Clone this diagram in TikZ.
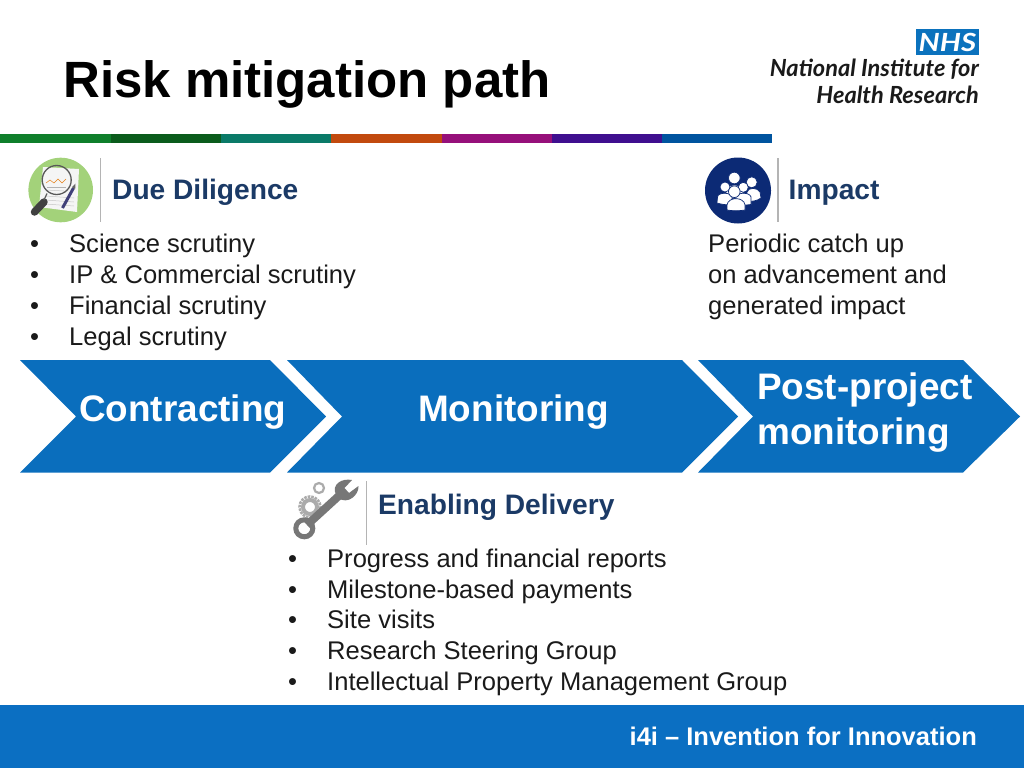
\documentclass[tikz,border=0pt]{standalone}
\usepackage{fontspec}
\setmainfont{Liberation Sans}
\newfontfamily\logofont{Lato}
\definecolor{chev}{HTML}{0A6EBD}
\definecolor{foot}{HTML}{0B6FC2}
\definecolor{navytxt}{HTML}{1B3A66}
\definecolor{sepgrey}{HTML}{B4B4B4}
\definecolor{iconnavy}{HTML}{0C2A75}
\definecolor{icongreen}{HTML}{A3D27A}
\definecolor{toolgrey}{HTML}{777777}
\definecolor{gearg}{HTML}{ABABAB}
\definecolor{nhsblue}{HTML}{0B72BD}
\definecolor{bodytxt}{HTML}{1A1A1A}
\newcommand{\fs}[1]{\fontsize{#1}{#1}\selectfont}
\tikzset{
  x=1pt,y=-1pt,
  chevshape/.style={fill=chev,draw=none},
  chevtext/.style={anchor=base west,inner sep=0pt,text=white,font=\fs{36.9}\bfseries},
  headtext/.style={anchor=base west,inner sep=0pt,text=navytxt,font=\fs{28.15}\bfseries},
  listtext/.style={anchor=base west,inner sep=0pt,text=bodytxt,font=\fs{25.55}},
  sepline/.style={draw=sepgrey,line width=1.2pt},
  barseg/.style={draw=none},
  person/.style={fill=white,draw=iconnavy,line width=.7pt},
}
\begin{document}
\begin{tikzpicture}
\useasboundingbox (0,0) rectangle (1024,768);
\fill[white] (0,0) rectangle (1024,768);
% title
\node[anchor=base west,inner sep=0pt,text=black,font=\fs{51}\bfseries] (title) at (63,97) {Risk mitigation path};
% logo
\fill[nhsblue] (916,29) rectangle (979,55);
\node[anchor=center,inner sep=0pt,text=white,font=\logofont\fs{25}\bfseries\itshape] (nhs) at (947.5,42) {\scalebox{1.18}[1]{NHS}};
\node[anchor=base east,inner sep=0pt,text=bodytxt,font=\logofont\fs{23.6}\bfseries\itshape] (nihra) at (979,77) {National Institute for};
\node[anchor=base east,inner sep=0pt,text=bodytxt,font=\logofont\fs{23.6}\bfseries\itshape] (nihrb) at (979,103) {Health Research};
% colour bar
\fill[barseg,fill={rgb,255:red,15;green,127;blue,43}] (0,134) rectangle (110.5,143);
\fill[barseg,fill={rgb,255:red,11;green,92;blue,28}] (110.5,134) rectangle (220.5,143);
\fill[barseg,fill={rgb,255:red,10;green,122;blue,104}] (220.5,134) rectangle (331,143);
\fill[barseg,fill={rgb,255:red,194;green,74;blue,14}] (331,134) rectangle (441.5,143);
\fill[barseg,fill={rgb,255:red,150;green,16;blue,122}] (441.5,134) rectangle (552,143);
\fill[barseg,fill={rgb,255:red,63;green,15;blue,143}] (552,134) rectangle (662,143);
\fill[barseg,fill={rgb,255:red,0;green,84;blue,159}] (662,134) rectangle (772,143);
% due diligence icon
\fill[icongreen] (60.7,190) circle (32.3);
\fill[white!92!gray] (43,167)--(79,169)--(77,212)--(39,207)--cycle;
\draw[gray!45,line width=.5pt] (46,196)--(74,198) (45,200)--(74,202) (45,204)--(74,206);
\draw[gray!45,line width=.5pt] (46,190)--(64,191);
\draw[black!65,line width=1.3pt] (56.7,180) circle (14.5);
\draw[orange!60!brown,line width=.5pt] (46,183)--(50,180)--(54,183)--(58,179)--(62,183)--(66,179);
\draw[gray!60,line width=.5pt] (47,187)--(66,187);
\draw[black!75,line width=7.5pt,line cap=round] (44,202)--(34.5,212);
\draw[black!65,line width=1.2pt] (47,193.5)--(44,200);
\draw[black!55!blue!50!gray,line width=3pt] (73.5,188)--(62.5,208);
\fill[black!60] (75.5,183.5)--(75.2,189)--(72,187.2)--cycle;
% separators
\draw[sepline] (100.5,158)--(100.5,222);
\draw[sepline] (778,158)--(778,222);
\draw[sepline] (366.5,481)--(366.5,545);
% impact icon
\fill[iconnavy] (738,190.5) circle (33);
\filldraw[person] (734.3,178) circle (5.8);
\filldraw[person] (751.7,182.3) circle (5.5);
\filldraw[person] (747,201.5)--(747,192) .. controls (748,187) and (758,187.5) .. (760,192)--(761,198) .. controls (757,201) and (752,201.5) .. (747,201.5)--cycle;
\filldraw[person] (726,198)--(726,191) .. controls (727,183) and (742,183) .. (743,191)--(743,198)--cycle;
\filldraw[person] (725,187) circle (5);
\filldraw[person] (717,203)--(717.5,197) .. controls (718,192) and (731,192) .. (732,197)--(732,205) .. controls (727,205) and (722,204.5) .. (717,203)--cycle;
\filldraw[person] (743.3,187.3) circle (5);
\filldraw[person] (736,206)--(736,197) .. controls (737,192) and (750,192) .. (751,197)--(751,204.5)--cycle;
\filldraw[person] (727,210)--(727,205) .. controls (728,196.5) and (744,196.5) .. (745,205)--(745,210) .. controls (740,211) and (732,211) .. (727,210)--cycle;
\filldraw[person] (734.3,191.7) circle (5.8);
% headings
\node[headtext] (dd) at (112,199) {Due Diligence};
\node[headtext] (imp) at (788.5,199) {Impact};
\node[headtext] (ed) at (378,514) {Enabling Delivery};
% due diligence list
\foreach \nm/\yy/\tx in {a/252.6/Science scrutiny,b/283.6/IP \& Commercial scrutiny,c/314.6/Financial scrutiny,d/345.6/Legal scrutiny}{
  \node[listtext] (bl\nm) at (30,\yy) {•};
  \node[listtext] (dl\nm) at (69,\yy) {\tx};
}
% impact text
\node[listtext] (ia) at (708,252.6) {Periodic catch up};
\node[listtext] (ib) at (708,283.6) {on advancement and};
\node[listtext] (ic) at (708,314.6) {generated impact};
% chevrons
\fill[chevshape] (20,360)--(270,360)--(326,416.5)--(270,472.5)--(20,472.5)--(76,416.5)--cycle;
\fill[chevshape] (287,360)--(682,360)--(738,416.5)--(682,472.5)--(287,472.5)--(342,416.5)--cycle;
\fill[chevshape] (698,360)--(963,360)--(1020,416.5)--(963,472.5)--(698,472.5)--(753,416.5)--cycle;
\node[chevtext] (c1) at (79,421) {Contracting};
\node[chevtext] (c2) at (418,421) {Monitoring};
\node[chevtext] (c3a) at (757,399) {Post-project};
\node[chevtext] (c3b) at (757,444) {monitoring};
% tools icon
\draw[gearg,line width=2.2pt] (319,488) circle (5);
\draw[gearg,line width=2.6pt,densely dotted] (310,507) circle (10.5);
\draw[gearg,line width=4pt] (310,507) circle (7);
\draw[toolgrey,line width=8pt] (307,525)--(342,493);
\draw[toolgrey,line width=5pt] (304.3,528.3) circle (8.5);
\fill[toolgrey] (336,495) .. controls (331,484) and (342,478) .. (352,480)--(344.5,488)--(349,493)--(358.5,486) .. controls (359,495) and (348,505) .. (338,498)--cycle;
% enabling list
\foreach \nm/\yy/\tx in {a/567.6/Progress and financial reports,b/598.6/Milestone-based payments,c/628.6/Site visits,d/659.6/Research Steering Group,e/690.6/Intellectual Property Management Group}{
  \node[listtext] (el\nm) at (288,\yy) {•};
  \node[listtext] (et\nm) at (327,\yy) {\tx};
}
% footer
\fill[foot] (0,705) rectangle (1024,768);
\node[anchor=base east,inner sep=0pt,text=white,font=\fs{25.5}\bfseries] (ft) at (977,745) {i4i – Invention for Innovation};
\end{tikzpicture}
\end{document}
